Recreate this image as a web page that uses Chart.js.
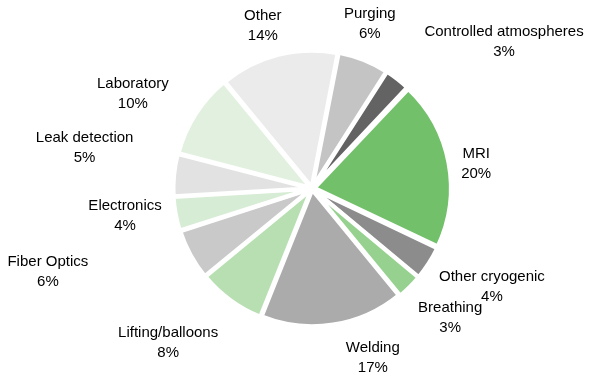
<!DOCTYPE html>
<html>
<head>
<meta charset="utf-8">
<script src="https://cdn.jsdelivr.net/npm/chart.js@4"></script>
<style>
  html, body { margin: 0; padding: 0; background: #ffffff; }
  #wrap { width: 610px; height: 382px; }
</style>
</head>
<body>
<div id="wrap"><canvas id="c" width="610" height="382"></canvas></div>
<script>
// ---- data ----
const categories = ["Purging", "Controlled atmospheres", "MRI", "Other cryogenic", "Breathing", "Welding",
                    "Lifting/balloons", "Fiber Optics", "Electronics", "Leak detection", "Laboratory", "Other"];
const shares = [6, 3, 20, 4, 3, 17, 8, 6, 4, 5, 10, 14];
const percentLabels = ["6%", "3%", "20%", "4%", "3%", "17%", "8%", "6%", "4%", "5%", "10%", "14%"];

// ---- styles ----
const sliceColors = ["#c4c4c4", "#636363", "#72c06a", "#8c8c8c", "#96d18f", "#ababab",
                     "#b7dfb2", "#c9c9c9", "#d7ecd4", "#e2e2e2", "#e2f1df", "#ebebeb"];
const sliceOffsets = [6, 6, 11, 6, 6, 6, 6, 6, 6, 6, 6, 6];
// label placement: [distance from pie centre, angle nudge in degrees from slice mid-angle]
const labelPlacement = [[175, -1.8], [243, 15], [168, 2.2], [207, -4.1], [191, -2.4], [181, -11.5],
                        [210, 6.3], [275, 11], [187, 2.1], [229, 4.6], [201, -4.4], [169, -2]];
const labelShiftX = -2;

const labelPlugin = {
  id: 'sliceLabels',
  afterDatasetsDraw(chart) {
    const ctx = chart.ctx;
    const meta = chart.getDatasetMeta(0);
    ctx.save();
    ctx.font = '15px "Liberation Sans", Arial, sans-serif';
    ctx.fillStyle = '#000000';
    ctx.textAlign = 'center';
    ctx.textBaseline = 'middle';
    meta.data.forEach((arc, i) => {
      const p = arc.getProps(['x', 'y', 'startAngle', 'endAngle'], true);
      const mid = (p.startAngle + p.endAngle) / 2 + labelPlacement[i][1] * Math.PI / 180;
      const d = labelPlacement[i][0];
      const lx = p.x + labelShiftX + d * Math.cos(mid);
      const ly = p.y + d * Math.sin(mid);
      ctx.fillText(categories[i], lx, ly - 10);
      ctx.fillText(percentLabels[i], lx, ly + 10);
    });
    ctx.restore();
  }
};

new Chart(document.getElementById('c'), {
  type: 'pie',
  data: {
    labels: categories,
    datasets: [{
      data: shares,
      backgroundColor: sliceColors,
      borderColor: '#ffffff',
      borderWidth: 4,
      offset: sliceOffsets,
      hoverOffset: 0
    }]
  },
  options: {
    responsive: false,
    devicePixelRatio: 1,
    animation: false,
    rotation: 11,
    radius: 136,
    layout: { padding: { left: 14, right: 0, top: 0, bottom: 5 } },
    plugins: {
      legend: { display: false },
      tooltip: { enabled: false }
    }
  },
  plugins: [labelPlugin]
});
</script>
</body>
</html>
